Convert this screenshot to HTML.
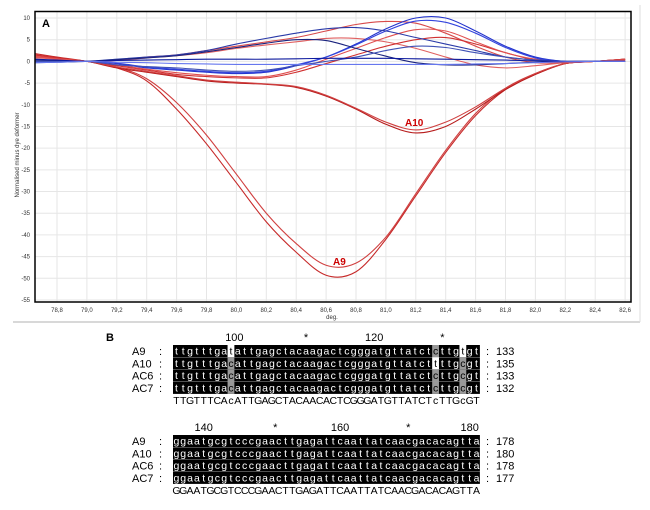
<!DOCTYPE html>
<html><head><meta charset="utf-8"><style>
body{margin:0;background:#fff;width:650px;height:510px;overflow:hidden;font-family:"Liberation Sans",sans-serif}
svg{display:block}
</style></head><body>
<svg id="s" width="650" height="510" viewBox="0 0 650 510">
<line x1="13" y1="322" x2="640" y2="322" stroke="#ccc" stroke-width="1.5"/>
<line x1="640" y1="5" x2="640" y2="322" stroke="#ddd" stroke-width="1"/>
<g id="grid"></g>
<g id="curves"></g>
<rect x="35" y="11.5" width="596" height="290.5" fill="none" stroke="#000" stroke-width="1.5"/>
<g id="ticks" font-size="6" fill="#333"></g>
<text x="42" y="27" font-size="11" font-weight="bold">A</text>
<text x="332" y="319" font-size="6" fill="#333" text-anchor="middle">deg.</text>
<text transform="translate(19,155) rotate(-90)" font-size="6" fill="#333" text-anchor="middle">Normalised minus dye deformer</text>
<text x="405" y="126" font-size="10" font-weight="bold" fill="#c00">A10</text>
<text x="333" y="265" font-size="10" font-weight="bold" fill="#c00">A9</text>
<g id="seq"></g>
</svg>
<script>
const xs=[78.65,78.8,79.0,79.2,79.4,79.6,79.8,80.0,80.2,80.4,80.6,80.8,81.0,81.2,81.4,81.6,81.8,82.0,82.2,82.4,82.6];
const xTicks=["78,8","79,0","79,2","79,4","79,6","79,8","80,0","80,2","80,4","80,6","80,8","81,0","81,2","81,4","81,6","81,8","82,0","82,2","82,4","82,6"];
const yTicks=[10,5,0,-5,-10,-15,-20,-25,-30,-35,-40,-45,-50,-55];
const a9a=[1.8,1,0,-1.5,-4.5,-11,-19,-28,-37,-44,-49.3,-48.5,-41,-31,-21,-12.5,-6.5,-3,-0.5,0,0.5];
const a9b=[1.5,0.8,0,-1.3,-4,-9.5,-17,-26,-35,-42,-47,-46.5,-40.5,-30.5,-20.5,-12,-6.2,-2.8,-0.5,0,0.5];
const a10a=[1.5,0.8,0,-1.5,-2.5,-3.5,-4.5,-5,-5.3,-6,-8,-11,-14.5,-16.5,-15,-11,-6.5,-3,-0.5,0,0.5];
const a10b=[1.2,0.6,0,-1.3,-2.3,-3.3,-4.3,-4.8,-5.2,-5.8,-7.8,-10.8,-14,-15.8,-14,-10.5,-6.2,-2.8,-0.5,0,0.5];
const red1=[1,0.6,0,0.3,1,1.5,2.5,3.5,4.5,5.5,7,8.5,9.2,8.8,6.5,3.5,1,-0.3,-0.3,0,0.3];
const red2=[0.8,0.5,0,0.2,0.8,1.3,2,3,3.8,4.5,5.3,5.3,4.5,3,1,-0.8,-1.5,-1,-0.3,0,0.3];
const red3=[1.5,0.8,0,-1,-2,-3,-3.5,-3.8,-3.8,-2.5,-0.5,1.5,3.5,5,5.5,4,2,0.3,-0.3,0,0.3];
const red4=[1.2,0.6,0,-0.8,-1.8,-2.6,-3.2,-3.5,-3.5,-2,0.5,3,5.5,7.3,7,4.5,2,0.5,-0.2,0,0.3];
const blue1=[0,0,0,-0.5,-1.5,-2,-2.5,-2.8,-2.5,-1,1,4,7.5,10,10,7,3.5,1,0,0,0];
const blue2=[0.3,0.2,0,-0.4,-1.3,-1.8,-2.3,-2.6,-2.3,-0.8,1,3.8,7,9.3,9,6.5,3.2,0.8,0,0,0];
const blue3=[-0.3,-0.2,0,0.5,1,1.5,2.5,4,5.3,6.5,7.5,7.8,7,5.5,4,2.5,1,0.3,0,0,0];
const blue4=[0.3,0.2,0,0.4,0.8,1.3,2.2,3.2,4.2,5,4.8,3,1.2,-0.3,-0.8,-0.8,-0.5,-0.2,0,0,0];
const blue5=[0,0,0,-0.8,-1.2,-1.5,-2,-2.3,-2,-1,0,1,2.5,3.5,3.2,2,1,0.3,0,0,0];
const blue6=[0.5,0.3,0,0.2,0.3,0.4,0.5,0.5,0.5,0.6,0.7,0.7,0.7,0.6,0.5,0.4,0.3,0.1,0,0,0];
const blue7=[-0.3,-0.2,0,-0.2,-0.3,-0.5,-0.6,-0.7,-0.7,-0.7,-0.7,-0.7,-0.7,-0.7,-0.7,-0.6,-0.5,-0.3,-0.1,0,0];
const series=[
 ["curve-a9-1",a9a,"#c62828"],["curve-a9-2",a9b,"#d04040"],["curve-a10-1",a10a,"#b71c1c"],["curve-a10-2",a10b,"#d04040"],
 ["curve-red-1",red1,"#d84a4a"],["curve-red-2",red2,"#e06060"],["curve-red-3",red3,"#d03030"],["curve-red-4",red4,"#e05050"],
 ["curve-blue-1",blue1,"#2233cc"],["curve-blue-2",blue2,"#3344dd"],["curve-blue-3",blue3,"#2a3aa8"],["curve-blue-4",blue4,"#1a237e"],
 ["curve-blue-5",blue5,"#3f51b5"],["curve-blue-6",blue6,"#0d1a9e"],["curve-blue-7",blue7,"#6677ee"]];
const NS="http://www.w3.org/2000/svg";
const X=v=>57+(v-78.8)*149.5, Y=v=>18+(10-v)*4.338;
function mk(t,a,p){const e=document.createElementNS(NS,t);for(const k in a)e.setAttribute(k,a[k]);p.appendChild(e);return e;}
const grid=document.getElementById('grid'),ticks=document.getElementById('ticks');
xTicks.forEach((t,i)=>{const x=57+i*29.9;
 const l=mk('line',{x1:x,x2:x,y1:11.5,y2:302,stroke:'#e6e6e6','stroke-width':1},grid);
 
 
 const tx=mk('text',{x:x,y:312,'text-anchor':'middle'},ticks);tx.textContent=t;
 
 });
yTicks.forEach(v=>{const y=Y(v);
 const l=mk('line',{x1:35,x2:631,y1:y,y2:y,stroke:'#e6e6e6','stroke-width':1},grid);
 
 
 const tx=mk('text',{x:30,y:y+2,'text-anchor':'end'},ticks);tx.textContent=v;
 
 });
const cg=document.getElementById('curves');
series.forEach(([n,vals,c])=>{const P=xs.map((x,i)=>[X(x),Y(vals[i])]);
 let d='M'+P[0][0]+','+P[0][1];
 for(let i=0;i<P.length-1;i++){const p0=P[i-1]||P[i],p1=P[i],p2=P[i+1],p3=P[i+2]||P[i+1];
  d+=' C'+(p1[0]+(p2[0]-p0[0])/6)+','+(p1[1]+(p2[1]-p0[1])/6)+' '+(p2[0]-(p3[0]-p1[0])/6)+','+(p2[1]-(p3[1]-p1[1])/6)+' '+p2[0]+','+p2[1];}
 const p=mk('path',{d:d,fill:'none',stroke:c,'stroke-width':1.1},cg);
 
 });
const names=["A9","A10","AC6","AC7"];
const block1=["ttgtttgatattgagctacaagactcgggatgttatctcttgtgt","ttgtttgacattgagctacaagactcgggatgttatcttttgcgt","ttgtttgacattgagctacaagactcgggatgttatctcttgcgt","ttgtttgacattgagctacaagactcgggatgttatctcttgcgt"];
const cons1="TTGTTTCAcATTGAGCTACAACACTCGGGATGTTATCTcTTGcGT";
const ends1=[133,135,133,132];
const block2=["ggaatgcgtcccgaacttgagattcaattatcaacgacacagtta","ggaatgcgtcccgaacttgagattcaattatcaacgacacagtta","ggaatgcgtcccgaacttgagattcaattatcaacgacacagtta","ggaatgcgtcccgaacttgagattcaattatcaacgacacagtta"];
const cons2="GGAATGCGTCCCGAACTTGAGATTCAATTATCAACGACACAGTTA";
const ends2=[178,180,178,177];
const marks1=[["100",8.5],["*",19],["120",29],["*",39]];
const marks2=[["140",4],["*",14.5],["160",24],["*",34],["180",43]];
const hi1={8:["w","g","g","g"],38:["g","w","g","g"],42:["w","g","g","g"]};
const sg=document.getElementById('seq');
mk('text',{x:106,y:341,'font-size':11,'font-weight':'bold'},sg).textContent='B';
const CW=6.82,X0=173;
function block(rows,cons,ends,marks,hi,top){
 marks.forEach(([t,c])=>{const e=mk('text',{x:X0+(c+0.5)*CW,y:top+4,'font-size':11,'text-anchor':'middle'},sg);e.textContent=t;
  
  });
 rows.forEach((r,ri)=>{const y=top+8+ri*12.3;
  mk('rect',{x:X0,y:y,width:r.length*CW,height:12,fill:'#000'},sg);
  const nm=mk('text',{x:132,y:y+10,'font-size':11},sg);nm.textContent=names[ri];
  
  
  mk('text',{x:159,y:y+10,'font-size':11},sg).textContent=':';
  mk('text',{x:486,y:y+10,'font-size':11},sg).textContent=':';
  const en=mk('text',{x:496,y:y+10,'font-size':11},sg);en.textContent=ends[ri];
  
  
  for(let i=0;i<r.length;i++){let fill='#fff';
   if(hi[i]){const h=hi[i][ri];mk('rect',{x:X0+i*CW,y:y,width:CW,height:12,fill:h=='w'?'#fff':'#999'},sg);fill='#000';}
   const t=mk('text',{x:X0+(i+0.5)*CW,y:y+9.5,'font-size':10.5,'text-anchor':'middle',fill:fill},sg);t.textContent=r[i];}
 });
 const cy=top+8+4*12.3+10;
 for(let i=0;i<cons.length;i++){const t=mk('text',{x:X0+(i+0.5)*CW,y:cy,'font-size':10.5,'text-anchor':'middle'},sg);t.textContent=cons[i];}
}
block(block1,cons1,ends1,marks1,hi1,337);
block(block2,cons2,ends2,marks2,{},427);
</script>
</body></html>
